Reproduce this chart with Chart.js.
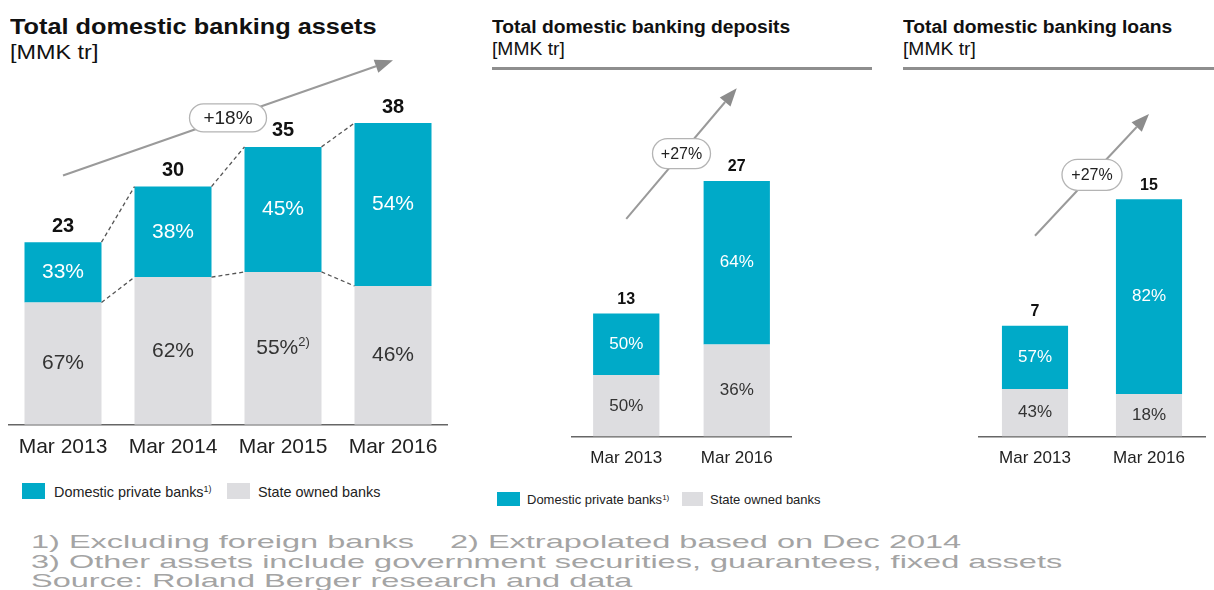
<!DOCTYPE html>
<html>
<head>
<meta charset="utf-8">
<script src="https://cdn.jsdelivr.net/npm/chart.js@4.4.0/dist/chart.umd.min.js"></script>
<style>
  html, body { margin: 0; padding: 0; background: #fff; }
  body { width: 1214px; height: 590px; position: relative; overflow: hidden;
         font-family: "Liberation Sans", Arial, sans-serif; color: #111; }
  .t { position: absolute; white-space: pre; transform-origin: 0 0; }
  .rule { position: absolute; height: 3px; background: #8e8e8e; }
  .sw { position: absolute; }
  .note { color: #a4a4a4; font-size: 19px; line-height: 19px; transform: scaleX(1.71); }
  canvas { position: absolute; }
  sup { font-size: 0.62em; vertical-align: 0; position: relative; top: -0.55em; }
</style>
</head>
<body>

<div class="t" style="left:10px;top:16px;font-size:22px;line-height:22px;font-weight:bold;transform:scaleX(1.15)">Total domestic banking assets</div>
<div class="t" style="left:10px;top:42px;font-size:20px;line-height:20px;transform:scaleX(1.17)">[MMK tr]</div>

<div class="t" style="left:492px;top:18px;font-size:18px;line-height:18px;font-weight:bold;transform:scaleX(1.07)">Total domestic banking deposits</div>
<div class="t" style="left:492px;top:40px;font-size:18px;line-height:18px;transform:scaleX(1.07)">[MMK tr]</div>
<div class="rule" style="left:492px;top:67px;width:380px"></div>

<div class="t" style="left:903px;top:18px;font-size:18px;line-height:18px;font-weight:bold;transform:scaleX(1.07)">Total domestic banking loans</div>
<div class="t" style="left:903px;top:40px;font-size:18px;line-height:18px;transform:scaleX(1.07)">[MMK tr]</div>
<div class="rule" style="left:903px;top:67px;width:311px"></div>

<canvas id="assetsChart" width="440" height="420" style="left:8px;top:50px"></canvas>
<canvas id="depositsChart" width="221" height="406" style="left:571px;top:75px"></canvas>
<canvas id="loansChart" width="228" height="406" style="left:978px;top:75px"></canvas>

<!-- legends -->
<div class="sw" style="left:22px;top:483px;width:23px;height:16px;background:#00aac8"></div>
<div class="t" style="left:54px;top:485px;font-size:14.4px;line-height:14px;color:#222">Domestic private banks<sup>1)</sup></div>
<div class="sw" style="left:227px;top:483px;width:23px;height:16px;background:#dddde0"></div>
<div class="t" style="left:258px;top:485px;font-size:14.4px;line-height:14px;color:#222">State owned banks</div>

<div class="sw" style="left:497px;top:492px;width:23px;height:14px;background:#00aac8"></div>
<div class="t" style="left:527px;top:493px;font-size:13px;line-height:13px;color:#222">Domestic private banks<sup>1)</sup></div>
<div class="sw" style="left:682px;top:492px;width:21px;height:14px;background:#dddde0"></div>
<div class="t" style="left:710px;top:493px;font-size:13px;line-height:13px;color:#222">State owned banks</div>

<!-- footnotes -->
<div class="t note" style="left:31px;top:532px">1) Excluding foreign banks    2) Extrapolated based on Dec 2014</div>
<div class="t note" style="left:31px;top:552px">3) Other assets include government securities, guarantees, fixed assets</div>
<div class="t note" style="left:31px;top:571px">Source: Roland Berger research and data</div>

<script>
// ---- data ----
const assetLabels = ["Mar 2013", "Mar 2014", "Mar 2015", "Mar 2016"];
const assetTotals = [23, 30, 35, 38];
const assetPrivatePct = [33, 38, 45, 54];
const assetStatePct = [67, 62, 55, 46];
const assetStateNotes = ["", "", "2)", ""];
const assetGrowth = "+18%";

const depositLabels = ["Mar 2013", "Mar 2016"];
const depositTotals = [13, 27];
const depositPrivatePct = [50, 64];
const depositStatePct = [50, 36];
const depositGrowth = "+27%";

const loanLabels = ["Mar 2013", "Mar 2016"];
const loanTotals = [7, 15];
const loanPrivatePct = [57, 82];
const loanStatePct = [43, 18];
const loanGrowth = "+27%";

const CYAN = "#00aac8";
const GREY = "#dddde0";
const FONT = "'Liberation Sans', Arial, sans-serif";

// draws % labels, totals, dashed connectors and the growth arrow
const barNotes = {
    id: "barNotes",
    afterDatasetsDraw(chart) {
        const o = chart.options.plugins.barNotes;
        const ctx = chart.ctx;
        const state = chart.getDatasetMeta(0).data;
        const priv = chart.getDatasetMeta(1).data;
        const xs = chart.scales.x, ys = chart.scales.y;

        ctx.save();
        ctx.textAlign = "center";
        ctx.textBaseline = "middle";

        // dashed connectors
        if (o.connectors) {
            ctx.strokeStyle = "#555";
            ctx.lineWidth = 1.3;
            ctx.setLineDash([4, 3]);
            for (let i = 0; i < priv.length - 1; i++) {
                const a = priv[i], b = priv[i + 1];
                ctx.beginPath();
                ctx.moveTo(a.x + a.width / 2, a.y);
                ctx.lineTo(b.x - b.width / 2, b.y);
                ctx.moveTo(a.x + a.width / 2, a.base);
                ctx.lineTo(b.x - b.width / 2, b.base);
                ctx.stroke();
            }
            ctx.setLineDash([]);
        }

        priv.forEach((p, i) => {
            const s = state[i];
            // state share
            ctx.fillStyle = "#333";
            ctx.font = o.pctSize + "px " + FONT;
            const txt = o.statePct[i] + "%";
            const note = o.notes ? o.notes[i] : "";
            if (note) {
                const w1 = ctx.measureText(txt).width;
                ctx.font = Math.round(o.pctSize * 0.62) + "px " + FONT;
                const w2 = ctx.measureText(note).width;
                const x0 = s.x - (w1 + w2) / 2;
                ctx.textAlign = "left";
                ctx.fillText(note, x0 + w1, (s.y + s.base) / 2 - o.pctSize * 0.3);
                ctx.font = o.pctSize + "px " + FONT;
                ctx.fillText(txt, x0, (s.y + s.base) / 2);
                ctx.textAlign = "center";
            } else {
                ctx.fillText(txt, s.x, (s.y + s.base) / 2);
            }
            // private share
            ctx.fillStyle = "#fff";
            ctx.fillText(o.privatePct[i] + "%", p.x, (p.y + p.base) / 2);
            // total
            ctx.fillStyle = "#111";
            ctx.font = "bold " + o.totalSize + "px " + FONT;
            ctx.fillText(String(o.totals[i]), p.x, p.y - o.totalGap);
        });

        // growth arrow
        const a = o.arrow;
        const x0 = xs.getPixelForValue(a.from[0]), y0 = ys.getPixelForValue(a.from[1]);
        const x1 = xs.getPixelForValue(a.to[0]), y1 = ys.getPixelForValue(a.to[1]);
        const ang = Math.atan2(y1 - y0, x1 - x0);
        const hl = 18, hw = 7;
        ctx.strokeStyle = "#9a9a9a";
        ctx.fillStyle = "#8c8c8c";
        ctx.lineWidth = 2;
        ctx.beginPath();
        ctx.moveTo(x0, y0);
        ctx.lineTo(x1 - hl * Math.cos(ang), y1 - hl * Math.sin(ang));
        ctx.stroke();
        ctx.beginPath();
        ctx.moveTo(x1, y1);
        ctx.lineTo(x1 - hl * Math.cos(ang) - hw * Math.sin(ang), y1 - hl * Math.sin(ang) + hw * Math.cos(ang));
        ctx.lineTo(x1 - hl * Math.cos(ang) + hw * Math.sin(ang), y1 - hl * Math.sin(ang) - hw * Math.cos(ang));
        ctx.closePath();
        ctx.fill();

        // pill with growth rate
        const mx = (x0 + x1) / 2, my = (y0 + y1) / 2;
        const pw = a.pill[0], ph = a.pill[1], r = ph / 2;
        ctx.beginPath();
        ctx.moveTo(mx - pw / 2 + r, my - r);
        ctx.lineTo(mx + pw / 2 - r, my - r);
        ctx.arc(mx + pw / 2 - r, my, r, -Math.PI / 2, Math.PI / 2);
        ctx.lineTo(mx - pw / 2 + r, my + r);
        ctx.arc(mx - pw / 2 + r, my, r, Math.PI / 2, Math.PI * 1.5);
        ctx.closePath();
        ctx.fillStyle = "#fff";
        ctx.fill();
        ctx.strokeStyle = "#b4b4b4";
        ctx.lineWidth = 1.3;
        ctx.stroke();
        ctx.fillStyle = "#222";
        ctx.font = a.size + "px " + FONT;
        ctx.fillText(a.text, mx, my + 1);

        ctx.restore();
    }
};

function makeChart(id, labels, totals, privPct, statePct, cfg) {
    const stateVals = totals.map((t, i) => t * statePct[i] / 100);
    const privVals = totals.map((t, i) => t * privPct[i] / 100);
    return new Chart(document.getElementById(id), {
        type: "bar",
        data: {
            labels: labels,
            datasets: [
                { label: "State owned banks", data: stateVals, backgroundColor: GREY,
                  barPercentage: cfg.barPct, categoryPercentage: 1 },
                { label: "Domestic private banks", data: privVals, backgroundColor: CYAN,
                  barPercentage: cfg.barPct, categoryPercentage: 1 }
            ]
        },
        options: {
            responsive: false,
            animation: false,
            devicePixelRatio: 1,
            layout: { padding: { top: 0, left: 0, right: 0, bottom: cfg.bottomPad } },
            scales: {
                x: {
                    stacked: true,
                    grid: { display: false, drawTicks: false },
                    border: { display: true, color: "#666", width: 1.5 },
                    ticks: { color: "#222", padding: cfg.tickPad, font: { size: cfg.tickSize, family: FONT } }
                },
                y: { stacked: true, display: false, min: 0, max: cfg.yMax }
            },
            plugins: {
                legend: { display: false },
                tooltip: { enabled: false },
                barNotes: {
                    totals: totals, privatePct: privPct, statePct: statePct,
                    notes: cfg.notes, connectors: cfg.connectors,
                    pctSize: cfg.pctSize, totalSize: cfg.totalSize, totalGap: cfg.totalGap,
                    arrow: cfg.arrow
                }
            }
        },
        plugins: [barNotes]
    });
}

makeChart("assetsChart", assetLabels, assetTotals, assetPrivatePct, assetStatePct, {
    barPct: 0.7, yMax: 47.2, bottomPad: 0, tickPad: 10, tickSize: 21,
    pctSize: 21, totalSize: 20, totalGap: 16, connectors: true, notes: assetStateNotes,
    arrow: { from: [0, 31.4], to: [3, 45.9], pill: [77, 28], size: 19, text: assetGrowth }
});

makeChart("depositsChart", depositLabels, depositTotals, depositPrivatePct, depositStatePct, {
    barPct: 0.6, yMax: 38.2, bottomPad: 0, tickPad: 12, tickSize: 17,
    pctSize: 17, totalSize: 16, totalGap: 14, connectors: false,
    arrow: { from: [0, 23.0], to: [1, 36.8], pill: [58, 30], size: 16, text: depositGrowth }
});

makeChart("loansChart", loanLabels, loanTotals, loanPrivatePct, loanStatePct, {
    barPct: 0.58, yMax: 22.86, bottomPad: 0, tickPad: 12, tickSize: 17,
    pctSize: 17, totalSize: 16, totalGap: 14, connectors: false,
    arrow: { from: [0, 12.7], to: [1, 20.4], pill: [60, 31], size: 16, text: loanGrowth }
});
</script>
</body>
</html>
